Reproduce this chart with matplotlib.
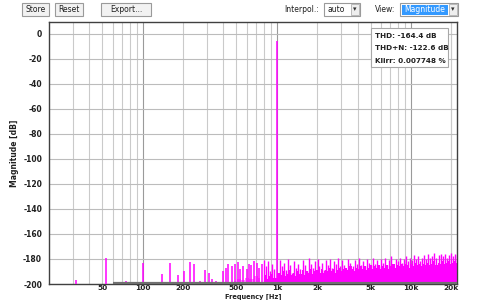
import numpy as np
import matplotlib
matplotlib.use("Agg")
import matplotlib.pyplot as plt
from matplotlib.patches import Rectangle

plt.rcParams['font.family'] = ['DejaVu Sans']
plt.rcParams['axes.unicode_minus'] = False

# spectrum data
fund_freq = 1000
fund_db = -5.5

spur_freq = [32, 53, 75, 100, 140, 160, 182, 204, 226, 243, 269, 290, 312, 330, 354,
             397, 416, 435, 463, 491, 514, 529, 560, 594, 618, 647, 673, 706, 738, 777]
spur_db = [-197, -179, -198, -183, -192, -183.5, -192.6, -189.4, -182.5, -184, -198, -189,
           -191, -196, -197.6, -189.4, -187, -183.8, -186, -184, -182.7, -188, -185.6,
           -187.8, -184, -184.9, -182, -183.3, -187.5, -184]

low_floor_freq = [480, 520, 560, 600, 650, 700, 750]
low_floor_db = [-198, -196, -197, -195, -196, -194, -195]

noise_freq = [800, 830, 860, 890, 920, 950,
              1050, 1090, 1130, 1170, 1210, 1250, 1300, 1350, 1400, 1450,
              1500, 1560, 1620, 1680, 1740, 1800, 1870, 1940, 2010, 2080,
              2160, 2240, 2320, 2400, 2490, 2580, 2670, 2770, 2870, 2970,
              3080, 3190, 3300, 3420, 3540, 3670, 3800, 3940, 4080, 4230,
              4380, 4540, 4700, 4870, 5040, 5220, 5410, 5600, 5800, 6010,
              6220, 6440, 6670, 6910, 7160, 7410, 7680, 7950, 8230, 8530,
              8830, 9150, 9480, 9820, 10170, 10530, 10910, 11300, 11700, 12120,
              12560, 13000, 13470, 13950, 14450, 14970, 15500, 16060, 16630, 17230,
              17840, 18480, 19140, 19830, 20540, 21270, 22000]
noise_peak = [-181, -186, -182, -190, -184, -188,
              -181, -186, -183, -189, -180, -185, -191, -182, -187, -184,
              -188, -181, -185, -190, -179, -184, -187, -182, -180, -186,
              -183, -189, -181, -185, -180, -187, -182, -184, -179, -186,
              -181, -185, -188, -180, -183, -186, -181, -184, -179, -185,
              -182, -186, -180, -183, -185, -179, -184, -181, -186, -180,
              -183, -179, -185, -181, -178, -184, -180, -182, -179, -183,
              -180, -178, -182, -179, -181, -177, -180, -178, -182, -179,
              -177, -180, -176, -179, -178, -175, -179, -177, -176, -178,
              -176, -179, -177, -175, -178, -176, -177]
noise_floor = [-195, -193, -196, -194, -192, -195,
               -191, -193, -190, -194, -192, -189, -193, -191, -194, -190,
               -192, -189, -193, -190, -191, -188, -192, -190, -189, -191,
               -188, -191, -189, -190, -187, -190, -188, -191, -189, -187,
               -190, -188, -187, -189, -186, -188, -190, -187, -188, -186,
               -188, -186, -189, -187, -185, -188, -186, -187, -185, -188,
               -186, -187, -185, -188, -186, -184, -187, -185, -186, -184,
               -186, -184, -185, -187, -184, -186, -183, -185, -184, -186,
               -184, -185, -183, -185, -184, -182, -185, -183, -184, -182,
               -184, -183, -182, -184, -183, -182, -183]

xtick_vals = [50, 100, 200, 500, 1000, 2000, 5000, 10000, 20000]
xtick_labels = ["50", "100", "200", "500", "1k", "2k", "5k", "10k", "20k"]
ytick_vals = list(range(-200, 1, 20))

stats = ["THD: -164.4 dB", "THD+N: -122.6 dB", "Klirr: 0.007748 %"]

MAG = "#ff00ff"

fig = plt.figure(figsize=(4.8, 3.0), dpi=100)
ax = fig.add_axes([49 / 480, 1 - 284 / 300, 408 / 480, 262 / 300])
ax.set_xscale("log")
ax.set_xlim(20, 22050)
ax.set_ylim(-200, 9.5)

# grid
grid_x = [m * d for d in (10, 100, 1000, 10000) for m in range(1, 10)] + [20000]
for g in grid_x:
    if g <= 20:
        continue
    major = g in (100, 1000, 10000)
    ax.axvline(g, color="#9a9a9a" if major else "#cacaca", lw=0.8, zorder=0)
for y in ytick_vals:
    ax.axhline(y, color="#bcbcbc", lw=0.8, zorder=0)

# spectrum
ax.fill_between(low_floor_freq, -200, low_floor_db, step="mid", color="#ff80ff", lw=0, zorder=2)
ax.fill_between(noise_freq, -200, noise_floor, step="mid", color=MAG, lw=0, zorder=2)
ax.vlines(noise_freq, -200, noise_peak, color=MAG, lw=1.0, zorder=3)
ax.vlines(spur_freq, -200, spur_db, color=MAG, lw=1.1, zorder=3)
ax.vlines([fund_freq], -200, [fund_db], color=MAG, lw=1.1, zorder=3)
ax.hlines(-199.6, 60, 22050, color="#707070", lw=1.6, zorder=4)

ax.set_xticks(xtick_vals)
ax.set_xticklabels(xtick_labels)
ax.set_xticks([], minor=True)
ax.set_yticks(ytick_vals)
ax.tick_params(axis="x", length=0, labelsize=5.3, pad=0.5, colors="#202020")
ax.tick_params(axis="y", length=0, labelsize=5.5, pad=5, colors="#202020")
for lab in ax.get_xticklabels() + ax.get_yticklabels():
    lab.set_fontweight("bold")
fig.text((253) / 480, 0.3 / 300, "Frequency [Hz]", fontsize=4.8, fontweight="bold",
         ha="center", va="bottom", color="#202020")
ax.set_ylabel("Magnitude [dB]", fontsize=5.5, fontweight="bold", labelpad=3, color="#202020")
for s in ax.spines.values():
    s.set_color("#404040")
    s.set_linewidth(1.0)

# stats box
ax.add_patch(Rectangle((0.789, 0.829), 0.189, 0.148, transform=ax.transAxes,
                       facecolor="white", edgecolor="#a8a8a8", lw=0.8, zorder=5))
for i, t in enumerate(stats):
    ax.text(0.800, 0.945 - i * 0.046, t, transform=ax.transAxes, fontsize=5.2,
            fontweight="bold", va="center", color="#202020", zorder=6)

# toolbar


def px(x, y):
    return x / 480, 1 - y / 300


def button(x0, x1, label):
    fx, fy = px(x0, 16)
    fig.patches.append(Rectangle((fx, fy), (x1 - x0) / 480, 13 / 300, transform=fig.transFigure,
                                 facecolor="#f2f2f2", edgecolor="#9a9a9a", lw=0.8))
    tx, ty = px((x0 + x1) / 2, 9.5)
    fig.text(tx, ty, label, fontsize=5.5, ha="center", va="center", color="#202020")


button(22, 49, "Store")
button(55, 83, "Reset")
button(101, 151, "Export...")

fig.text(*px(284, 9.5), "Interpol.:", fontsize=5.5, va="center", color="#202020")
fx, fy = px(324, 16)
fig.patches.append(Rectangle((fx, fy), 36 / 480, 13 / 300, transform=fig.transFigure,
                             facecolor="white", edgecolor="#9a9a9a", lw=0.8))
fig.patches.append(Rectangle(px(351, 15), 8 / 480, 11 / 300, transform=fig.transFigure,
                             facecolor="#eeeeee", edgecolor="#b0b0b0", lw=0.6))
fig.text(*px(327, 9.5), "auto", fontsize=5.5, va="center", color="#202020")
fig.text(*px(355, 9.5), "▾", fontsize=5, ha="center", va="center", color="#303030")

fig.text(*px(375, 9.5), "View:", fontsize=5.5, va="center", color="#202020")
fig.patches.append(Rectangle(px(400, 16), 58 / 480, 13 / 300, transform=fig.transFigure,
                             facecolor="white", edgecolor="#9a9a9a", lw=0.8))
fig.patches.append(Rectangle(px(402, 14.5), 46 / 480, 10 / 300, transform=fig.transFigure,
                             facecolor="#3399ff", edgecolor="none"))
fig.patches.append(Rectangle(px(449, 15), 8 / 480, 11 / 300, transform=fig.transFigure,
                             facecolor="#eeeeee", edgecolor="#b0b0b0", lw=0.6))
fig.text(*px(404, 9.5), "Magnitude", fontsize=5.5, va="center", color="white")
fig.text(*px(453, 9.5), "▾", fontsize=5, ha="center", va="center", color="#303030")

fig.savefig("out.png", dpi=100, facecolor="white")
